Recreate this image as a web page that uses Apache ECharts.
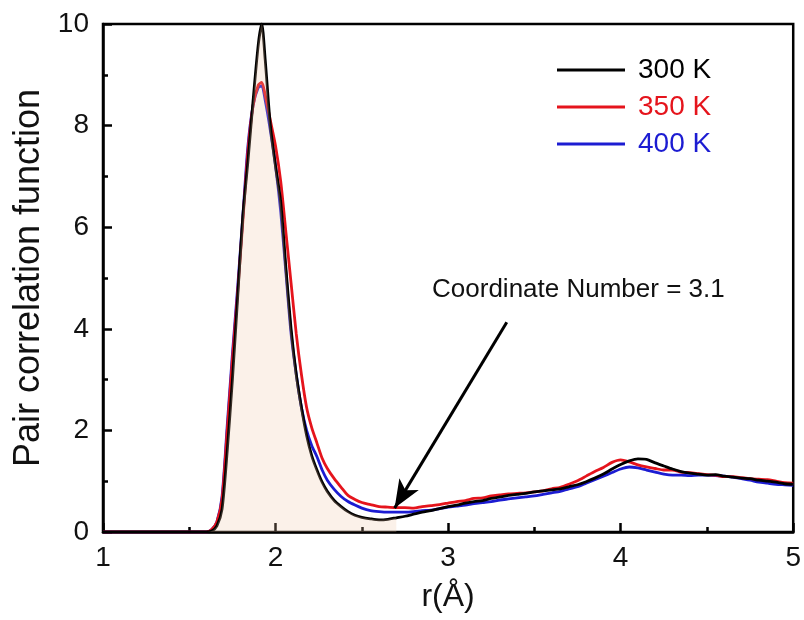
<!DOCTYPE html>
<html>
<head>
<meta charset="utf-8">
<script src="https://cdn.jsdelivr.net/npm/echarts@6/dist/echarts.min.js"></script>
<style>html,body{margin:0;padding:0;background:#fff;}#c{width:804px;height:620px;}</style>
</head>
<body>
<div id="c"></div>
<script>
// r grid (Å)
const rValues = [1.0, 1.55, 1.6, 1.63, 1.66, 1.69, 1.72, 1.75, 1.78, 1.81, 1.84, 1.87, 1.9, 1.92, 1.94, 1.97, 2.0, 2.03, 2.06, 2.09, 2.12, 2.15, 2.18, 2.21, 2.24, 2.27, 2.3, 2.34, 2.38, 2.42, 2.46, 2.5, 2.55, 2.6, 2.65, 2.7, 2.75, 2.8, 2.85, 2.9, 2.95, 3.0,
  3.05, 3.1, 3.15, 3.2, 3.25, 3.3, 3.35, 3.4, 3.45, 3.5, 3.55, 3.6, 3.65, 3.7, 3.75, 3.8, 3.85, 3.9, 3.95, 4.0,
  4.05, 4.1, 4.15, 4.2, 4.25, 4.3, 4.35, 4.4, 4.45, 4.5, 4.55, 4.6, 4.65, 4.7, 4.75, 4.8, 4.85, 4.9, 4.95, 5.0];

const g300 = [0, 0, 0, 0.02, 0.12, 0.45, 1.6, 3.0, 4.6, 6.2, 7.3, 8.5, 9.6, 10.0, 9.3, 8.0, 7.2, 6.5, 5.2, 4.0, 3.1, 2.45, 1.9, 1.5, 1.22, 0.98, 0.80, 0.62, 0.50, 0.40, 0.33, 0.29, 0.26, 0.24, 0.25, 0.28, 0.31, 0.35, 0.39, 0.42, 0.46, 0.50,
  0.53, 0.57, 0.60, 0.62, 0.66, 0.69, 0.72, 0.74, 0.76, 0.79, 0.81, 0.83, 0.85, 0.89, 0.93, 0.99, 1.06, 1.14, 1.24, 1.33,
  1.40, 1.44, 1.43, 1.36, 1.30, 1.24, 1.19, 1.16, 1.14, 1.12, 1.13, 1.10, 1.08, 1.06, 1.05, 1.02, 1.00, 0.98, 0.95, 0.94];

const g350 = [0, 0, 0, 0.05, 0.2, 0.65, 2.0, 3.4, 4.7, 6.1, 7.5, 8.4, 8.8, 8.85, 8.6, 8.1, 7.6, 6.9, 5.9, 4.9, 3.9, 3.1, 2.45, 2.05, 1.75, 1.45, 1.25, 1.05, 0.88, 0.72, 0.64, 0.58, 0.54, 0.50, 0.49, 0.48, 0.48, 0.47, 0.50, 0.52, 0.54, 0.57,
  0.60, 0.62, 0.66, 0.67, 0.71, 0.73, 0.75, 0.76, 0.77, 0.79, 0.81, 0.85, 0.88, 0.94, 1.01, 1.10, 1.19, 1.27, 1.37, 1.42,
  1.38, 1.32, 1.28, 1.25, 1.22, 1.22, 1.18, 1.17, 1.15, 1.13, 1.12, 1.09, 1.09, 1.07, 1.05, 1.04, 1.03, 1.00, 0.97, 0.96];

const g400 = [0, 0, 0, 0.05, 0.2, 0.7, 2.1, 3.5, 4.8, 6.2, 7.6, 8.4, 8.75, 8.78, 8.5, 7.9, 7.2, 6.3, 5.1, 3.9, 3.1, 2.45, 2.0, 1.7, 1.48, 1.22, 1.02, 0.84, 0.70, 0.60, 0.53, 0.47, 0.42, 0.40, 0.39, 0.39, 0.39, 0.40, 0.42, 0.43, 0.46, 0.49,
  0.51, 0.53, 0.56, 0.58, 0.60, 0.63, 0.65, 0.67, 0.69, 0.71, 0.74, 0.77, 0.80, 0.85, 0.89, 0.96, 1.03, 1.10, 1.17, 1.24,
  1.28, 1.26, 1.22, 1.18, 1.14, 1.12, 1.12, 1.11, 1.12, 1.12, 1.11, 1.10, 1.08, 1.05, 1.02, 0.98, 0.96, 0.94, 0.93, 0.92];

const seriesNames = ['300 K', '350 K', '400 K'];
const seriesColors = ['#000000', '#e5141c', '#1c1cd2'];
const fillEnd = 2.7;              // first-shell integration limit
const annotationText = 'Coordinate Number = 3.1';
const arrowFrom = [3.34, 4.13];
const arrowTo = [2.69, 0.47];
const textAt = [2.907, 4.77];
const xTicks = [1, 2, 3, 4, 5];
const yTicks = [0, 2, 4, 6, 8, 10];

const FONT = 'Arial, "Liberation Sans", sans-serif';
const toPairs = arr => rValues.map((r, i) => [r, arr[i]]);
const fillData = rValues.map((r, i) => [r, g300[i]]).filter(p => p[0] <= fillEnd);

const chart = echarts.init(document.getElementById('c'), null, {renderer: 'canvas'});
const lines = [g300, g350, g400].map((arr, i) => ({
  name: seriesNames[i],
  type: 'line',
  data: toPairs(arr),
  showSymbol: false,
  symbol: 'none',
  smooth: 0.25,
  lineStyle: {color: seriesColors[i], width: 2.8},
  itemStyle: {color: seriesColors[i]},
  z: 3 - i + 2,
  animation: false
}));

lines[0].markLine = {
  silent: true,
  symbol: ['none', 'arrow'],
  symbolSize: [17, 28],
  lineStyle: {color: '#000', width: 3, type: 'solid'},
  label: {show: false},
  data: [[{coord: arrowFrom}, {coord: arrowTo}]],
  animation: false
};
lines[0].markPoint = {
  silent: true,
  symbol: 'circle',
  symbolSize: 0,
  data: [{coord: textAt, value: annotationText}],
  label: {show: true, position: 'right', distance: 0, formatter: annotationText,
          fontSize: 26, color: '#111', fontFamily: FONT},
  animation: false
};

const fillSeries = {
  name: 'fill',
  type: 'line',
  data: fillData,
  showSymbol: false,
  symbol: 'none',
  smooth: 0.25,
  lineStyle: {width: 0, opacity: 0},
  areaStyle: {color: 'rgba(240, 195, 165, 0.34)', origin: 'start'},
  z: 10,
  silent: true,
  animation: false
};

chart.setOption({
  animation: false,
  backgroundColor: '#fff',
  grid: {left: 103, right: 10, top: 24, bottom: 88, show: true, borderColor: '#000', borderWidth: 2.5, backgroundColor: 'transparent'},
  legend: {
    orient: 'vertical',
    left: 552, top: 51,
    icon: 'rect',
    itemWidth: 68, itemHeight: 3,
    itemGap: 9,
    textStyle: {fontSize: 28, fontFamily: FONT, padding: [0, 0, 0, 8]},
    data: seriesNames.map((n, i) => ({name: n, textStyle: {color: seriesColors[i]}})),
    selectedMode: false
  },
  xAxis: {
    type: 'value', min: 1, max: 5, interval: 1,
    name: 'r(Å)', nameLocation: 'middle', nameGap: 49,
    nameTextStyle: {fontSize: 32, fontFamily: FONT, color: '#111'},
    axisLine: {show: true, onZero: false, lineStyle: {color: '#000', width: 2.5}},
    axisTick: {show: true, inside: true, length: 9, lineStyle: {color: '#000', width: 2.5}},
    minorTick: {show: true, splitNumber: 2, length: 5, lineStyle: {color: '#000', width: 2.5}},
    axisLabel: {fontSize: 28, fontFamily: FONT, color: '#111', margin: 12,
                formatter: v => xTicks.includes(v) ? String(v) : ''},
    splitLine: {show: false}
  },
  yAxis: {
    type: 'value', min: 0, max: 10, interval: 2,
    name: 'Pair correlation function', nameLocation: 'middle', nameGap: 56,
    nameTextStyle: {fontSize: 36, fontFamily: FONT, color: '#111'},
    axisLine: {show: true, onZero: false, lineStyle: {color: '#000', width: 2.5}},
    axisTick: {show: true, inside: true, length: 9, lineStyle: {color: '#000', width: 2.5}},
    minorTick: {show: true, splitNumber: 2, length: 5, lineStyle: {color: '#000', width: 2.5}},
    axisLabel: {fontSize: 28, fontFamily: FONT, color: '#111', margin: 14,
                formatter: v => yTicks.includes(v) ? String(v) : ''},
    splitLine: {show: false}
  },
  series: [...lines, fillSeries]
});
</script>
</body>
</html>
